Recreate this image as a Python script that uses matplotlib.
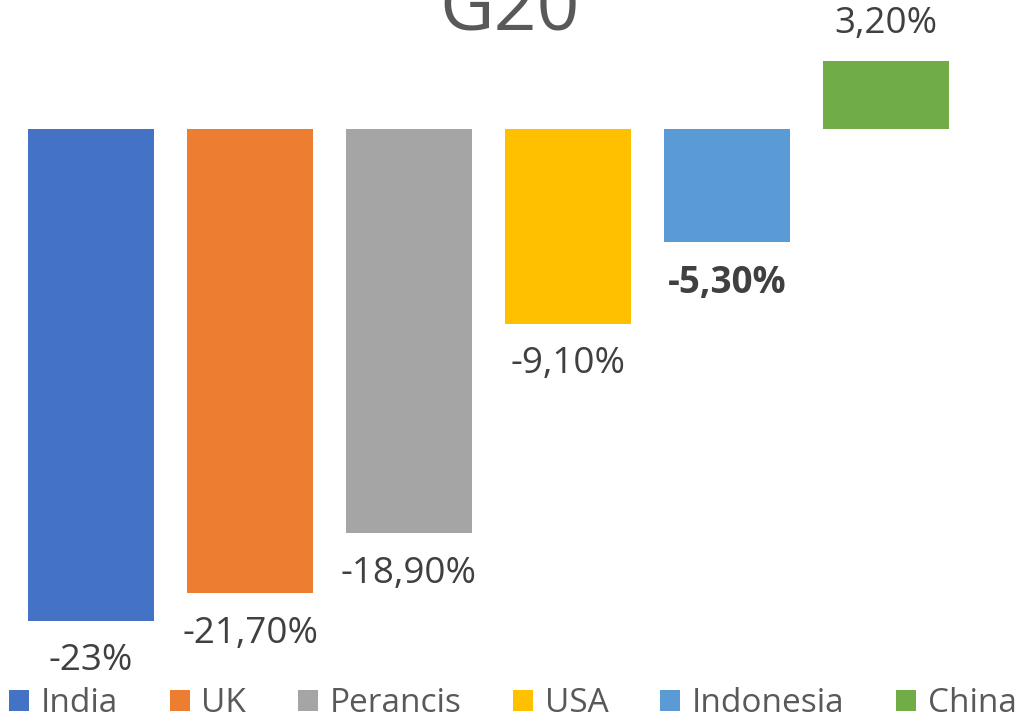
import matplotlib.pyplot as plt
from matplotlib.patches import Patch

plt.rcParams['font.family'] = ['Open Sans', 'DejaVu Sans']

countries = ["India", "UK", "Perancis", "USA", "Indonesia", "China"]
growth = [-23, -21.7, -18.9, -9.1, -5.3, 3.2]
labels = ["-23%", "-21,70%", "-18,90%", "-9,10%", "-5,30%", "3,20%"]
colors = ["#4472C4", "#ED7D31", "#A5A5A5", "#FFC000", "#5B9BD5", "#70AD47"]

W, H = 1026, 721
fig = plt.figure(figsize=(W / 100, H / 100), dpi=100)
ax = fig.add_axes([0, 0, 1, 1])

x = list(range(len(countries)))
ax.bar(x, growth, width=0.79, color=colors)

# pixel layout: first centre at 91px, 159px step; zero line at 129px, 21.4px per unit
ax.set_xlim(-91 / 159, (W - 91) / 159)
ax.set_ylim(-(H - 129) / 21.4, 129 / 21.4)
ax.axis('off')

for i, (v, lab) in enumerate(zip(growth, labels)):
    weight = 'bold' if countries[i] == "Indonesia" else 'normal'
    off = -29 if v < 0 else 26
    ax.annotate(lab, (i, v), xytext=(0, off), textcoords='offset points',
                ha='center', va='center', fontsize=26.5, color='#404040',
                fontweight=weight)

fig.text(0.497, 1 - 29 / H, "G20", ha='center', va='baseline', fontsize=54,
         color='#595959')

handles = [Patch(facecolor=c, label=n) for c, n in zip(colors, countries)]
fig.legend(handles=handles, loc='lower center', bbox_to_anchor=(0.5, -0.022),
           ncol=6, frameon=False, fontsize=24, labelcolor='#595959',
           handlelength=0.6, handleheight=0.6, handletextpad=0.35,
           columnspacing=1.55, borderpad=0)

fig.savefig("out.png", dpi=100)
